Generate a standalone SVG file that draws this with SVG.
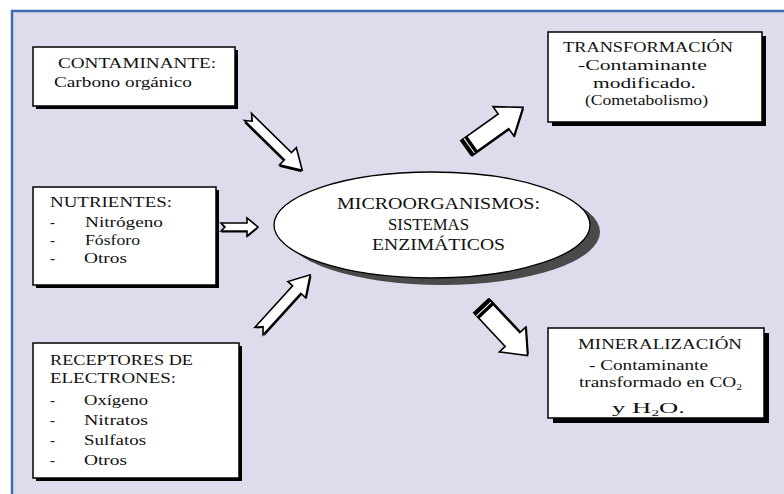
<svg xmlns="http://www.w3.org/2000/svg" width="784" height="494" viewBox="0 0 784 494">
<defs>
<style>
.t{font-family:"Liberation Serif","Times New Roman",serif;font-size:15px;fill:#111}
.e{font-size:16px}
.box{fill:#fff;stroke:#000;stroke-width:1.5}
.sh{fill:#000}
.arr{fill:#fff;stroke:#000;stroke-width:1.6;stroke-linejoin:miter}
.arrsh{fill:#000}
</style>
</defs>
<rect x="0" y="0" width="784" height="494" fill="#fff"/>
<rect x="12" y="11" width="780" height="490" fill="#dcdcec" stroke="#3d6cb4" stroke-width="2.5"/>

<g id="connectors">
  <g transform="translate(248,117) rotate(44.5)">
    <path class="arrsh" transform="translate(1,1.8)" d="M0,-5 L56,-5 L56,-12 L76,0 L56,12 L56,5 L0,5 L6,0 Z"/>
    <path class="arr" d="M0,-5 L56,-5 L56,-12 L76,0 L56,12 L56,5 L0,5 L6,0 Z"/>
  </g>
  <g transform="translate(221,227)">
    <path class="arrsh" transform="translate(0,1.5)" d="M0,-4 L26,-4 L26,-9 L37,0 L26,9 L26,4 L0,4 L4,0 Z"/>
    <path class="arr" d="M0,-4 L26,-4 L26,-9 L37,0 L26,9 L26,4 L0,4 L4,0 Z"/>
  </g>
  <g transform="translate(259,331) rotate(-47.7)">
    <path class="arrsh" transform="translate(0,1.8)" d="M0,-5.5 L56,-5.5 L56,-12 L76,0 L56,12 L56,5.5 L0,5.5 L6,0 Z"/>
    <path class="arr" d="M0,-5.5 L56,-5.5 L56,-12 L76,0 L56,12 L56,5.5 L0,5.5 L6,0 Z"/>
  </g>
  <g transform="translate(466,148) rotate(-35.5)">
    <path class="arrsh" transform="translate(0,1.8)" d="M0,-9 L46,-9 L46,-18 L70,0 L46,18 L46,9 L0,9 Z"/>
    <path class="arr" d="M0,-9 L46,-9 L46,-18 L70,0 L46,18 L46,9 L0,9 Z"/>
    <rect x="0" y="-9" width="8" height="18" fill="#000"/>
    <line x1="4" y1="-9" x2="4" y2="9" stroke="#fff" stroke-width="1"/>
  </g>
  <g transform="translate(481,306) rotate(46.8)">
    <path class="arrsh" transform="translate(0,-1.8)" d="M0,-10 L46,-10 L46,-18 L68,0 L46,18 L46,10 L0,10 Z"/>
    <path class="arr" d="M0,-10 L46,-10 L46,-18 L68,0 L46,18 L46,10 L0,10 Z"/>
    <rect x="0" y="-10" width="8" height="20" fill="#000"/>
    <line x1="4" y1="-10" x2="4" y2="10" stroke="#fff" stroke-width="1"/>
  </g>
</g>

<g id="contaminante">
  <rect class="sh" x="36" y="50" width="202" height="59"/>
  <rect class="box" x="33" y="47" width="202" height="59"/>
  <text class="t" x="58" y="68" textLength="158" lengthAdjust="spacingAndGlyphs">CONTAMINANTE:</text>
  <text class="t" x="54" y="87" textLength="138" lengthAdjust="spacingAndGlyphs">Carbono orgánico</text>
</g>

<g id="nutrientes">
  <rect class="sh" x="36" y="190" width="183" height="98"/>
  <rect class="box" x="33" y="187" width="183" height="98"/>
  <text class="t" x="50" y="207" textLength="122" lengthAdjust="spacingAndGlyphs">NUTRIENTES:</text>
  <text class="t" x="50" y="227">-</text><text class="t" x="85" y="227" textLength="78" lengthAdjust="spacingAndGlyphs">Nitrógeno</text>
  <text class="t" x="50" y="245">-</text><text class="t" x="85" y="245" textLength="55" lengthAdjust="spacingAndGlyphs">Fósforo</text>
  <text class="t" x="50" y="263">-</text><text class="t" x="84" y="263" textLength="43" lengthAdjust="spacingAndGlyphs">Otros</text>
</g>

<g id="receptores">
  <rect class="sh" x="36" y="346" width="206" height="135"/>
  <rect class="box" x="33" y="343" width="206" height="135"/>
  <text class="t" x="50" y="365" textLength="143" lengthAdjust="spacingAndGlyphs">RECEPTORES DE</text>
  <text class="t" x="50" y="383" textLength="126" lengthAdjust="spacingAndGlyphs">ELECTRONES:</text>
  <text class="t" x="50" y="405">-</text><text class="t" x="84" y="405" textLength="64" lengthAdjust="spacingAndGlyphs">Oxígeno</text>
  <text class="t" x="50" y="425">-</text><text class="t" x="84" y="425" textLength="64" lengthAdjust="spacingAndGlyphs">Nitratos</text>
  <text class="t" x="50" y="445">-</text><text class="t" x="84" y="445" textLength="62" lengthAdjust="spacingAndGlyphs">Sulfatos</text>
  <text class="t" x="50" y="465">-</text><text class="t" x="84" y="465" textLength="43" lengthAdjust="spacingAndGlyphs">Otros</text>
</g>

<g id="microorganismos">
  <ellipse cx="442" cy="232" rx="158" ry="53" fill="#4a4a4a"/>
  <ellipse cx="432" cy="225" rx="158" ry="53" fill="#fff" stroke="#000" stroke-width="1.3"/>
  <text class="t e" x="337" y="209" textLength="203" lengthAdjust="spacingAndGlyphs">MICROORGANISMOS:</text>
  <text class="t e" x="388" y="230" textLength="81" lengthAdjust="spacingAndGlyphs">SISTEMAS</text>
  <text class="t e" x="372" y="250" textLength="133" lengthAdjust="spacingAndGlyphs">ENZIMÁTICOS</text>
</g>

<g id="transformacion">
  <rect class="sh" x="552" y="36" width="214" height="90"/>
  <rect class="box" x="548" y="32" width="214" height="90"/>
  <text class="t" x="563" y="52" textLength="170" lengthAdjust="spacingAndGlyphs">TRANSFORMACIÓN</text>
  <text class="t" x="578" y="70" textLength="129" lengthAdjust="spacingAndGlyphs">-Contaminante</text>
  <text class="t" x="593" y="88" textLength="103" lengthAdjust="spacingAndGlyphs">modificado.</text>
  <text class="t" x="585" y="105" textLength="123" lengthAdjust="spacingAndGlyphs">(Cometabolismo)</text>
</g>

<g id="mineralizacion">
  <rect class="sh" x="553" y="333" width="216" height="90"/>
  <rect class="box" x="548" y="328" width="216" height="90"/>
  <text class="t" x="578" y="349" textLength="164" lengthAdjust="spacingAndGlyphs">MINERALIZACIÓN</text>
  <text class="t" x="589" y="370" textLength="119" lengthAdjust="spacingAndGlyphs">- Contaminante</text>
  <text class="t" x="579" y="387" textLength="163" lengthAdjust="spacingAndGlyphs">transformado en CO<tspan font-size="9" dy="3">2</tspan></text>
  <text class="t" x="612" y="413" textLength="73" lengthAdjust="spacingAndGlyphs">y H<tspan font-size="9" dy="3">2</tspan><tspan dy="-3">O.</tspan></text>
</g>
</svg>
